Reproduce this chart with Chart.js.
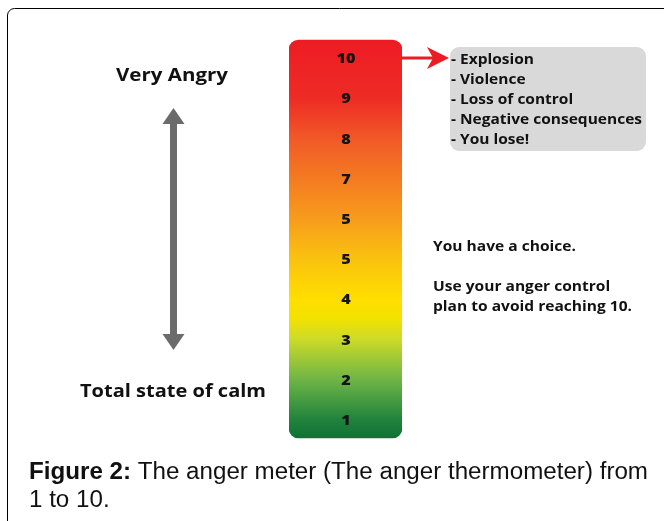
<!DOCTYPE html>
<html>
<head>
<meta charset="utf-8">
<script src="https://cdn.jsdelivr.net/npm/chart.js@4.4.0/dist/chart.umd.min.js"></script>
<style>
html,body{margin:0;padding:0;background:#fff;}
#wrap{position:relative;width:664px;height:521px;overflow:hidden;}
canvas{display:block;}
</style>
</head>
<body>
<div id="wrap"><canvas id="c" width="664" height="521"></canvas></div>
<script>
// ---- data ----
const categories = ['Anger meter'];
const meterLevels = [1, 2, 3, 4, 5, 6, 7, 8, 9, 10];
const meterLabels = ['1', '2', '3', '4', '5', '5', '7', '8', '9', '10'];
const meterRange = [0.55, 10.45];
const topLabel = 'Very Angry';
const bottomLabel = 'Total state of calm';
const consequences = ['- Explosion', '- Violence', '- Loss of control', '- Negative consequences', '- You lose!'];
const adviceLines = ['You have a choice.', '', 'Use your anger control', 'plan to avoid reaching 10.'];
const captionBold = 'Figure 2:';
const captionLine1 = ' The anger meter (The anger thermometer) from';
const captionLine2 = '1 to 10.';

const gradientStops = [
  [0, '#ed1c24'], [0.146, '#ee2b24'], [0.251, '#f15a28'], [0.349, '#f47b21'],
  [0.45, '#f79c1c'], [0.55, '#fac20f'], [0.651, '#ffde00'], [0.70, '#f3e200'],
  [0.751, '#cddb28'], [0.854, '#6eb446'], [0.955, '#1f833c'], [1, '#0f7236']
];

const FONT = '"Open Sans", Lato, sans-serif';

function fitText(ctx, text, x, y, targetW, align) {
  const w = ctx.measureText(text).width;
  const sx = targetW / w;
  ctx.save();
  ctx.translate(x, y);
  ctx.scale(sx, 1);
  ctx.textAlign = align || 'left';
  ctx.fillText(text, 0, 0);
  ctx.restore();
}

const decor = {
  id: 'decor',
  afterDatasetsDraw(chart) {
    const ctx = chart.ctx;
    const ys = chart.scales.y;
    const meta = chart.getDatasetMeta(0).data[0];
    const barRight = meta.x + meta.width / 2;
    ctx.save();
    // outer frame
    ctx.strokeStyle = '#000';
    ctx.lineWidth = 1;
    ctx.beginPath();
    ctx.moveTo(7.5, 521);
    ctx.lineTo(7.5, 15);
    ctx.arcTo(7.5, 8.5, 14, 8.5, 7);
    ctx.lineTo(664, 8.5);
    ctx.stroke();

    // level labels inside bar
    ctx.fillStyle = '#151515';
    ctx.font = '800 13.5px ' + FONT;
    ctx.textAlign = 'center';
    ctx.textBaseline = 'alphabetic';
    const sxLv = 19 / ctx.measureText('10').width;
    meterLevels.forEach((lv, i) => {
      ctx.save();
      ctx.translate(meta.x + 0.5, ys.getPixelForValue(lv) + 5);
      ctx.scale(sxLv, 1);
      ctx.fillText(meterLabels[i], 0, 0);
      ctx.restore();
    });

    // gray double arrow
    ctx.fillStyle = '#6b6b6b';
    ctx.beginPath();
    const cx = 173.5;
    ctx.moveTo(cx, 108);
    ctx.lineTo(cx + 11, 124);
    ctx.lineTo(cx + 3.5, 124);
    ctx.lineTo(cx + 3.5, 334);
    ctx.lineTo(cx + 11, 334);
    ctx.lineTo(cx, 350);
    ctx.lineTo(cx - 11, 334);
    ctx.lineTo(cx - 3.5, 334);
    ctx.lineTo(cx - 3.5, 124);
    ctx.lineTo(cx - 11, 124);
    ctx.closePath();
    ctx.fill();

    // left labels
    ctx.fillStyle = '#111';
    ctx.font = 'bold 17px ' + FONT;
    fitText(ctx, topLabel, 172, 81, 112, 'center');
    fitText(ctx, bottomLabel, 173, 397, 186, 'center');

    // red arrow
    const ay = ys.getPixelForValue(10);
    ctx.strokeStyle = '#ed1c24';
    ctx.fillStyle = '#ed1c24';
    ctx.lineWidth = 3;
    ctx.beginPath();
    ctx.moveTo(barRight - 1, ay);
    ctx.lineTo(434, ay);
    ctx.stroke();
    ctx.beginPath();
    ctx.moveTo(449, ay);
    ctx.lineTo(427, ay - 11);
    ctx.lineTo(433, ay);
    ctx.lineTo(427, ay + 11);
    ctx.closePath();
    ctx.fill();

    // gray box
    ctx.fillStyle = '#d9d9d9';
    ctx.beginPath();
    ctx.roundRect(450, 47, 196, 104, 9);
    ctx.fill();
    ctx.fillStyle = '#111';
    ctx.font = 'bold 14px ' + FONT;
    const sxBox = 191 / ctx.measureText(consequences[3]).width;
    consequences.forEach((t, i) => {
      ctx.save();
      ctx.translate(451, 64 + i * 20);
      ctx.scale(sxBox, 1);
      ctx.textAlign = 'left';
      ctx.fillText(t, 0, 0);
      ctx.restore();
    });

    // advice text
    ctx.font = 'bold 13.5px ' + FONT;
    const sxAdv = 199 / ctx.measureText(adviceLines[3]).width;
    adviceLines.forEach((t, i) => {
      if (!t) return;
      ctx.save();
      ctx.translate(433, 251 + i * 20);
      ctx.scale(sxAdv, 1);
      ctx.textAlign = 'left';
      ctx.fillText(t, 0, 0);
      ctx.restore();
    });

    // caption
    ctx.fillStyle = '#111';
    const CF = '"Liberation Sans", Arial, sans-serif';
    ctx.font = 'bold 23px ' + CF;
    const wb = ctx.measureText(captionBold).width;
    ctx.font = '23px ' + CF;
    const wr = ctx.measureText(captionLine1).width;
    const sxc = 619 / (wb + wr);
    ctx.save();
    ctx.translate(29, 479);
    ctx.scale(sxc, 1);
    ctx.textAlign = 'left';
    ctx.font = 'bold 23px ' + CF;
    ctx.fillText(captionBold, 0, 0);
    ctx.font = '23px ' + CF;
    ctx.fillText(captionLine1, wb, 0);
    ctx.fillText(captionLine2, 0, 28);
    ctx.restore();
    ctx.restore();
  }
};

new Chart(document.getElementById('c'), {
  type: 'bar',
  data: {
    labels: categories,
    datasets: [{
      data: [meterRange],
      backgroundColor(context) {
        const chart = context.chart;
        const ys = chart.scales.y;
        if (!ys || !chart.chartArea) return '#ed1c24';
        const top = ys.getPixelForValue(meterRange[1]);
        const bot = ys.getPixelForValue(meterRange[0]);
        if (!isFinite(top) || !isFinite(bot)) return '#ed1c24';
        const g = chart.ctx.createLinearGradient(0, top, 0, bot);
        gradientStops.forEach(s => g.addColorStop(s[0], s[1]));
        return g;
      },
      borderWidth: 0,
      borderRadius: 10,
      borderSkipped: false,
      barPercentage: 1,
      categoryPercentage: 1
    }]
  },
  options: {
    responsive: false,
    animation: false,
    devicePixelRatio: 1,
    layout: { padding: { left: 289, right: 262, top: 38, bottom: 81 } },
    plugins: { legend: { display: false }, tooltip: { enabled: false }, title: { display: false } },
    scales: {
      x: { display: false },
      y: { display: false, min: 0.5, max: 10.5 }
    }
  },
  plugins: [decor]
});
</script>
</body>
</html>
